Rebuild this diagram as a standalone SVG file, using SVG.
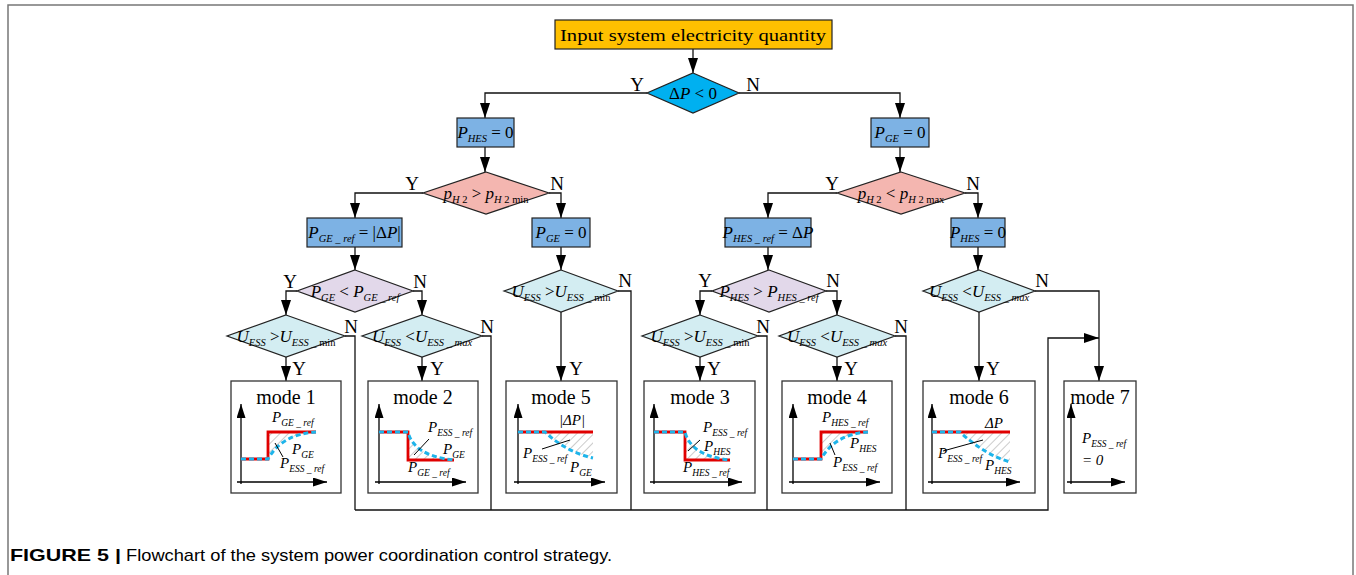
<svg xmlns="http://www.w3.org/2000/svg" width="1356" height="575" viewBox="0 0 1356 575">
<style>
.m{font-family:"Liberation Serif",serif;font-size:17px;fill:#000}
.i{font-style:italic}
.s{font-style:italic;font-size:10.5px}
.u{font-size:10.5px}
.lbl{font-family:"Liberation Serif",serif;font-size:19px;fill:#000;text-anchor:middle}
.mt{font-family:"Liberation Serif",serif;font-size:20px;fill:#000;text-anchor:middle}
.t{font-family:"Liberation Serif",serif;font-style:italic;font-size:15px;fill:#000}
.ts{font-size:9.5px}
.box{stroke:#222;stroke-width:1.2}
.mode{fill:#fff;stroke:#333;stroke-width:1.3}
.con{fill:none;stroke:#111;stroke-width:1.3}
.ax{fill:none;stroke:#000;stroke-width:1.3}
.red{fill:none;stroke:#e00000;stroke-width:2.8}
.blue{fill:none;stroke:#1eb4ea;stroke-width:3;stroke-dasharray:5 3}
.lead{stroke:#000;stroke-width:1}
.hat{fill:url(#hatch);stroke:none}
</style>
<defs>
<marker id="ah" viewBox="0 0 15 10" refX="15" refY="5" markerWidth="15" markerHeight="10" markerUnits="userSpaceOnUse" orient="auto"><path d="M0,0 L15,5 L0,10 z" fill="#000"/></marker>
<marker id="axh" viewBox="0 0 14 9" refX="14" refY="4.5" markerWidth="14" markerHeight="9" markerUnits="userSpaceOnUse" orient="auto"><path d="M0,0 L14,4.5 L0,9 z" fill="#000"/></marker>
<pattern id="hatch" patternUnits="userSpaceOnUse" width="6" height="6" patternTransform="rotate(45)"><line x1="0" y1="0" x2="0" y2="6" stroke="#999" stroke-width="1"/></pattern>
</defs>
<rect x="0" y="0" width="1356" height="575" fill="#fff"/>
<rect x="8" y="5" width="1345" height="600" fill="none" stroke="#777" stroke-width="1.5"/>

<g id="connectors">
<path class="con" d="M693,49 V73" marker-end="url(#ah)"/>
<path class="con" d="M647,93 H485 V118" marker-end="url(#ah)"/>
<path class="con" d="M739,93 H900 V118" marker-end="url(#ah)"/>
<path class="con" d="M485,147 V172" marker-end="url(#ah)"/>
<path class="con" d="M900,147 V172" marker-end="url(#ah)"/>
<path class="con" d="M423,193 H355 V218" marker-end="url(#ah)"/>
<path class="con" d="M549,193 H561 V218" marker-end="url(#ah)"/>
<path class="con" d="M837,193 H768 V218" marker-end="url(#ah)"/>
<path class="con" d="M965,193 H978 V218" marker-end="url(#ah)"/>
<path class="con" d="M355,247 V270" marker-end="url(#ah)"/>
<path class="con" d="M561,247 V270" marker-end="url(#ah)"/>
<path class="con" d="M768,247 V270" marker-end="url(#ah)"/>
<path class="con" d="M978,247 V270" marker-end="url(#ah)"/>
<path class="con" d="M297,291 H286 V315" marker-end="url(#ah)"/>
<path class="con" d="M413,291 H422 V315" marker-end="url(#ah)"/>
<path class="con" d="M712,291 H700 V315" marker-end="url(#ah)"/>
<path class="con" d="M826,291 H837 V315" marker-end="url(#ah)"/>
<path class="con" d="M286,357 V381" marker-end="url(#ah)"/>
<path class="con" d="M422,357 V381" marker-end="url(#ah)"/>
<path class="con" d="M561,312 V381" marker-end="url(#ah)"/>
<path class="con" d="M700,357 V381" marker-end="url(#ah)"/>
<path class="con" d="M837,357 V381" marker-end="url(#ah)"/>
<path class="con" d="M979,312 V381" marker-end="url(#ah)"/>
<path class="con" d="M1035,291 H1099 V381" marker-end="url(#ah)"/>
<path class="con" d="M345,336 H355 V510"/>
<path class="con" d="M482,336 H491 V510"/>
<path class="con" d="M618,291 H631 V510"/>
<path class="con" d="M758,336 H767 V510"/>
<path class="con" d="M895,336 H906 V510"/>
<path class="con" d="M355,510 H1048 V338 H1099" marker-end="url(#ah)"/>
<text class="lbl" x="637" y="91">Y</text>
<text class="lbl" x="753" y="91">N</text>
<text class="lbl" x="412" y="190">Y</text>
<text class="lbl" x="557" y="190">N</text>
<text class="lbl" x="832" y="190">Y</text>
<text class="lbl" x="973" y="190">N</text>
<text class="lbl" x="290" y="288">Y</text>
<text class="lbl" x="420" y="288">N</text>
<text class="lbl" x="625" y="287">N</text>
<text class="lbl" x="705" y="287">Y</text>
<text class="lbl" x="833" y="287">N</text>
<text class="lbl" x="1042" y="287">N</text>
<text class="lbl" x="351" y="333">N</text>
<text class="lbl" x="487" y="333">N</text>
<text class="lbl" x="763" y="333">N</text>
<text class="lbl" x="901" y="333">N</text>
<text class="lbl" x="299" y="375">Y</text>
<text class="lbl" x="437" y="375">Y</text>
<text class="lbl" x="576" y="375">Y</text>
<text class="lbl" x="714" y="375">Y</text>
<text class="lbl" x="851" y="375">Y</text>
<text class="lbl" x="993" y="375">Y</text>
</g>

<g id="n-input">
<rect class="box" x="555" y="20" width="277" height="29" fill="#ffc000"/>
<text class="m" x="693" y="41" text-anchor="middle" font-size="20" textLength="266" lengthAdjust="spacingAndGlyphs">Input system electricity quantity</text>
</g>
<g id="d-dp">
<polygon class="box" points="693,73 739,93 693,113 647,93" fill="#00b0f0"/>
<text class="m" x="693" y="99" text-anchor="middle" font-size="16">Δ<tspan class="i">P</tspan> &lt; 0</text>
</g>
<g id="n-phes0-left">
<rect class="box" x="457" y="118" width="57" height="29" fill="#7db2e4"/>
<text class="m" x="485.5" y="138" text-anchor="middle"><tspan class="i">P</tspan><tspan class="s" dy="4">HES</tspan><tspan dy="-4"> = 0</tspan></text>
</g>
<g id="n-pge0-right">
<rect class="box" x="871" y="118" width="58" height="29" fill="#7db2e4"/>
<text class="m" x="900" y="138" text-anchor="middle"><tspan class="i">P</tspan><tspan class="s" dy="4">GE</tspan><tspan dy="-4"> = 0</tspan></text>
</g>
<g id="d-ph2min">
<polygon class="box" points="486,172 549,193 486,214 423,193" fill="#f4b6b0"/>
<text class="m" x="486" y="199" text-anchor="middle"><tspan class="i">p</tspan><tspan class="u" dy="4"><tspan class="i">H</tspan> 2</tspan><tspan dy="-4"> &gt; </tspan><tspan class="i">p</tspan><tspan class="u" dy="4"><tspan class="i">H</tspan> 2 min</tspan></text>
</g>
<g id="d-ph2max">
<polygon class="box" points="901,172 965,193 901,214 837,193" fill="#f4b6b0"/>
<text class="m" x="901" y="199" text-anchor="middle"><tspan class="i">p</tspan><tspan class="u" dy="4"><tspan class="i">H</tspan> 2</tspan><tspan dy="-4"> &lt; </tspan><tspan class="i">p</tspan><tspan class="u" dy="4"><tspan class="i">H</tspan> 2 max</tspan></text>
</g>
<g id="n-pgeref">
<rect class="box" x="307" y="218" width="95" height="29" fill="#7db2e4"/>
<text class="m" x="354.5" y="238" text-anchor="middle"><tspan class="i">P</tspan><tspan class="s" dy="4">GE _ ref</tspan><tspan dy="-4"> = |Δ</tspan><tspan class="i">P</tspan>|</text>
</g>
<g id="n-pge0-mid">
<rect class="box" x="532" y="218" width="58" height="29" fill="#7db2e4"/>
<text class="m" x="561" y="238" text-anchor="middle"><tspan class="i">P</tspan><tspan class="s" dy="4">GE</tspan><tspan dy="-4"> = 0</tspan></text>
</g>
<g id="n-phesref">
<rect class="box" x="725" y="218" width="86" height="29" fill="#7db2e4"/>
<text class="m" x="768" y="238" text-anchor="middle"><tspan class="i">P</tspan><tspan class="s" dy="4">HES _ ref</tspan><tspan dy="-4"> = Δ</tspan><tspan class="i">P</tspan></text>
</g>
<g id="n-phes0-right">
<rect class="box" x="951" y="218" width="54" height="29" fill="#7db2e4"/>
<text class="m" x="978" y="238" text-anchor="middle"><tspan class="i">P</tspan><tspan class="s" dy="4">HES</tspan><tspan dy="-4"> = 0</tspan></text>
</g>
<g id="d-pge-lt">
<polygon class="box" points="355,270 413,291 355,312 297,291" fill="#e2d8ea"/>
<text class="m" x="355" y="297" text-anchor="middle"><tspan class="i">P</tspan><tspan class="s" dy="4">GE</tspan><tspan dy="-4"> &lt; </tspan><tspan class="i">P</tspan><tspan class="s" dy="4">GE _ ref</tspan></text>
</g>
<g id="d-phes-gt">
<polygon class="box" points="769,270 826,291 769,312 712,291" fill="#e2d8ea"/>
<text class="m" x="769" y="297" text-anchor="middle"><tspan class="i">P</tspan><tspan class="s" dy="4">HES</tspan><tspan dy="-4"> &gt; </tspan><tspan class="i">P</tspan><tspan class="s" dy="4">HES _ ref</tspan></text>
</g>
<g id="d-uess-m5">
<polygon class="box" points="561,270 618,291 561,312 504,291" fill="#d3edf2"/>
<text class="m" x="561" y="297" text-anchor="middle"><tspan class="i">U</tspan><tspan class="s" dy="4">ESS</tspan><tspan dy="-4"> &gt;</tspan><tspan class="i">U</tspan><tspan class="u" dy="4"><tspan class="i">ESS</tspan> _ min</tspan></text>
</g>
<g id="d-uess-m6">
<polygon class="box" points="979,270 1035,291 979,312 923,291" fill="#d3edf2"/>
<text class="m" x="979" y="297" text-anchor="middle"><tspan class="i">U</tspan><tspan class="s" dy="4">ESS</tspan><tspan dy="-4"> &lt;</tspan><tspan class="i">U</tspan><tspan class="s" dy="4">ESS _ max</tspan></text>
</g>
<g id="d-uess-m1">
<polygon class="box" points="286,315 345,336 286,357 227,336" fill="#d3edf2"/>
<text class="m" x="286" y="342" text-anchor="middle"><tspan class="i">U</tspan><tspan class="s" dy="4">ESS</tspan><tspan dy="-4"> &gt;</tspan><tspan class="i">U</tspan><tspan class="u" dy="4"><tspan class="i">ESS</tspan> _ min</tspan></text>
</g>
<g id="d-uess-m2">
<polygon class="box" points="422,315 482,336 422,357 362,336" fill="#d3edf2"/>
<text class="m" x="422" y="342" text-anchor="middle"><tspan class="i">U</tspan><tspan class="s" dy="4">ESS</tspan><tspan dy="-4"> &lt;</tspan><tspan class="i">U</tspan><tspan class="s" dy="4">ESS _ max</tspan></text>
</g>
<g id="d-uess-m3">
<polygon class="box" points="700,315 758,336 700,357 642,336" fill="#d3edf2"/>
<text class="m" x="700" y="342" text-anchor="middle"><tspan class="i">U</tspan><tspan class="s" dy="4">ESS</tspan><tspan dy="-4"> &gt;</tspan><tspan class="i">U</tspan><tspan class="u" dy="4"><tspan class="i">ESS</tspan> _ min</tspan></text>
</g>
<g id="d-uess-m4">
<polygon class="box" points="837,315 895,336 837,357 779,336" fill="#d3edf2"/>
<text class="m" x="837" y="342" text-anchor="middle"><tspan class="i">U</tspan><tspan class="s" dy="4">ESS</tspan><tspan dy="-4"> &lt;</tspan><tspan class="i">U</tspan><tspan class="s" dy="4">ESS _ max</tspan></text>
</g>

<g id="mode1">
<rect class="mode" x="231" y="381" width="110" height="112"/>
<text class="mt" x="286" y="404">mode 1</text>
<path class="ax" d="M241,484 V404" marker-end="url(#axh)"/>
<path class="ax" d="M237,482 H327" marker-end="url(#axh)"/>
<path class="hat" d="M268,459 Q282,434 316,432 L268,432 Z"/>
<polyline class="red" points="241,459 268,459 268,432 316,432"/>
<path class="blue" d="M241,459 L268,459 Q282,434 316,432"/>
<line class="lead" x1="275" y1="443" x2="283" y2="457"/>
<text class="t" x="272" y="422">P<tspan class="ts" dy="4">GE _ ref</tspan></text>
<text class="t" x="292" y="454">P<tspan class="ts" dy="4">GE</tspan></text>
<text class="t" x="280" y="468">P<tspan class="ts" dy="4">ESS _ ref</tspan></text>
</g>
<g id="mode2">
<rect class="mode" x="368" y="381" width="110" height="112"/>
<text class="mt" x="423" y="404">mode 2</text>
<path class="ax" d="M379,484 V404" marker-end="url(#axh)"/>
<path class="ax" d="M375,482 H466" marker-end="url(#axh)"/>
<path class="hat" d="M408,432 Q414,456 454,460 L408,460 Z"/>
<polyline class="red" points="379,432 408,432 408,460 454,460"/>
<path class="blue" d="M379,432 L408,432 Q414,456 454,460"/>
<line class="lead" x1="414" y1="455" x2="429" y2="439"/>
<text class="t" x="428" y="432">P<tspan class="ts" dy="4">ESS _ ref</tspan></text>
<text class="t" x="443" y="454">P<tspan class="ts" dy="4">GE</tspan></text>
<text class="t" x="408" y="472">P<tspan class="ts" dy="4">GE _ ref</tspan></text>
</g>
<g id="mode5">
<rect class="mode" x="506" y="381" width="111" height="112"/>
<text class="mt" x="561" y="404">mode 5</text>
<path class="ax" d="M518,484 V404" marker-end="url(#axh)"/>
<path class="ax" d="M514,482 H605" marker-end="url(#axh)"/>
<path class="hat" d="M545,432 Q566,452 593,458 L593,432 Z"/>
<line class="red" x1="518" y1="432" x2="593" y2="432"/>
<path class="blue" d="M518,432 L545,432 Q566,452 593,458"/>
<line class="lead" x1="542" y1="449" x2="570" y2="440"/>
<text class="t" x="572" y="425" text-anchor="middle" font-style="normal">|Δ<tspan font-style="italic">P</tspan>|</text>
<text class="t" x="523" y="458">P<tspan class="ts" dy="4">ESS _ ref</tspan></text>
<text class="t" x="570" y="472">P<tspan class="ts" dy="4">GE</tspan></text>
</g>
<g id="mode3">
<rect class="mode" x="644" y="381" width="111" height="112"/>
<text class="mt" x="700" y="404">mode 3</text>
<path class="ax" d="M654,484 V404" marker-end="url(#axh)"/>
<path class="ax" d="M650,482 H742" marker-end="url(#axh)"/>
<path class="hat" d="M685,432 Q691,456 730,460 L685,460 Z"/>
<polyline class="red" points="654,432 685,432 685,460 730,460"/>
<path class="blue" d="M654,432 L685,432 Q691,456 730,460"/>
<line class="lead" x1="688" y1="451" x2="700" y2="440"/>
<text class="t" x="703" y="432">P<tspan class="ts" dy="4">ESS _ ref</tspan></text>
<text class="t" x="704" y="451">P<tspan class="ts" dy="4">HES</tspan></text>
<text class="t" x="683" y="472">P<tspan class="ts" dy="4">HES _ ref</tspan></text>
</g>
<g id="mode4">
<rect class="mode" x="782" y="381" width="110" height="112"/>
<text class="mt" x="837" y="404">mode 4</text>
<path class="ax" d="M793,484 V404" marker-end="url(#axh)"/>
<path class="ax" d="M789,482 H880" marker-end="url(#axh)"/>
<path class="hat" d="M821,459 Q835,434 868,432 L821,432 Z"/>
<polyline class="red" points="793,459 821,459 821,432 868,432"/>
<path class="blue" d="M793,459 L821,459 Q835,434 868,432"/>
<line class="lead" x1="830" y1="443" x2="835" y2="455"/>
<text class="t" x="822" y="422">P<tspan class="ts" dy="4">HES _ ref</tspan></text>
<text class="t" x="850" y="448">P<tspan class="ts" dy="4">HES</tspan></text>
<text class="t" x="833" y="467">P<tspan class="ts" dy="4">ESS _ ref</tspan></text>
</g>
<g id="mode6">
<rect class="mode" x="923" y="381" width="112" height="112"/>
<text class="mt" x="979" y="404">mode 6</text>
<path class="ax" d="M932,484 V404" marker-end="url(#axh)"/>
<path class="ax" d="M928,482 H1020" marker-end="url(#axh)"/>
<path class="hat" d="M960,432 Q985,455 1010,462 L1010,432 Z"/>
<line class="red" x1="932" y1="432" x2="1010" y2="432"/>
<path class="blue" d="M932,432 L960,432 Q985,455 1010,462"/>
<line class="lead" x1="943" y1="451" x2="983" y2="440"/>
<text class="t" x="994" y="428" text-anchor="middle" font-style="normal">Δ<tspan font-style="italic">P</tspan></text>
<text class="t" x="938" y="458">P<tspan class="ts" dy="4">ESS _ ref</tspan></text>
<text class="t" x="985" y="470">P<tspan class="ts" dy="4">HES</tspan></text>
</g>
<g id="mode7">
<rect class="mode" x="1064" y="381" width="72" height="112"/>
<text class="mt" x="1100" y="404" font-size="18">mode 7</text>
<path class="ax" d="M1071,484 V404" marker-end="url(#axh)"/>
<path class="ax" d="M1067,482 H1125" marker-end="url(#axh)"/>
<text class="t" x="1082" y="443">P<tspan class="ts" dy="4">ESS _ ref</tspan></text>
<text class="t" x="1082" y="465" font-style="normal">= 0</text>
</g>

<g id="caption">
<text x="10" y="561" font-family="'Liberation Sans',sans-serif" font-size="17" font-weight="bold" textLength="111" lengthAdjust="spacingAndGlyphs">FIGURE 5 |</text>
<text x="126" y="561" font-family="'Liberation Sans',sans-serif" font-size="17" textLength="486" lengthAdjust="spacingAndGlyphs">Flowchart of the system power coordination control strategy.</text>
</g>
</svg>
